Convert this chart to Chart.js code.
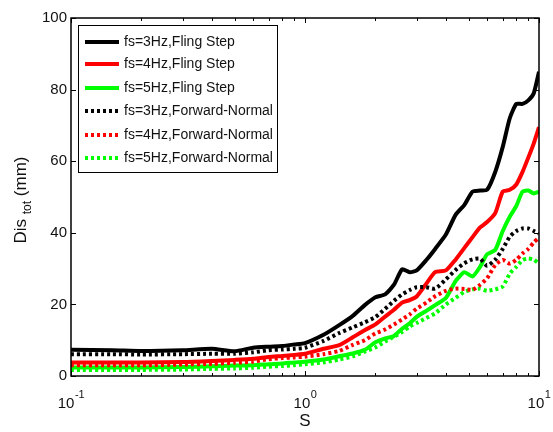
<!DOCTYPE html>
<html>
<head>
<meta charset="utf-8">
<script src="https://cdn.jsdelivr.net/npm/chart.js@4"></script>
<style>
  html, body { margin: 0; padding: 0; background: #fff; }
</style>
</head>
<body>
<canvas id="chart" width="553" height="432"></canvas>
<script>
// Period ratio S (log axis) and total displacement (mm) for each case
const sValues = [0.1, 0.15, 0.2, 0.3, 0.4, 0.5, 0.6, 0.7, 0.8, 0.9, 1.0, 1.2, 1.4, 1.6, 1.8, 2.0, 2.2, 2.4, 2.6, 2.8, 3.0, 3.3, 3.6, 4.0, 4.4, 4.8, 5.2, 5.6, 6.0, 6.5, 7.0, 7.5, 8.0, 8.5, 9.0, 9.5, 10];

const fling3Hz = [7.3, 7.2, 7.0, 7.2, 7.6, 6.9, 7.9, 8.2, 8.4, 8.8, 9.2, 11.5, 14.2, 16.8, 19.8, 22.0, 22.8, 25.5, 29.8, 29.0, 29.5, 32.4, 35.5, 39.5, 45.0, 47.8, 51.5, 51.8, 52.0, 57.0, 64.0, 72.0, 76.0, 76.0, 77.0, 79.0, 85.0];
const fling4Hz = [3.8, 3.8, 3.8, 3.9, 4.2, 4.5, 4.8, 5.3, 5.6, 5.9, 6.2, 7.6, 8.6, 10.8, 12.8, 14.4, 16.6, 18.5, 20.5, 21.2, 22.2, 25.8, 29.0, 29.5, 32.5, 35.8, 38.8, 41.5, 43.0, 45.5, 51.5, 52.0, 53.5, 57.0, 61.0, 65.0, 69.5];
const fling5Hz = [2.4, 2.4, 2.4, 2.5, 2.7, 2.9, 3.0, 3.3, 3.5, 3.8, 4.0, 4.6, 5.5, 6.3, 7.3, 9.4, 10.5, 11.2, 13.2, 14.7, 16.5, 18.2, 19.8, 21.8, 26.5, 29.0, 27.8, 30.5, 34.0, 35.2, 40.5, 44.5, 47.5, 51.5, 51.8, 51.0, 51.5];
const fn3Hz = [6.1, 6.1, 6.0, 6.1, 6.2, 6.2, 6.6, 7.2, 7.4, 7.6, 7.9, 9.8, 12.0, 13.6, 15.0, 16.5, 18.8, 21.0, 22.8, 24.0, 24.8, 24.8, 24.4, 27.0, 29.6, 31.5, 32.6, 32.8, 30.8, 32.5, 35.5, 38.9, 40.5, 41.2, 41.2, 40.5, 39.8];
const fn4Hz = [3.0, 3.0, 3.0, 3.2, 3.4, 3.7, 4.0, 4.7, 5.0, 5.2, 5.4, 6.1, 7.0, 8.7, 10.0, 11.9, 13.0, 14.4, 15.8, 17.2, 18.8, 20.5, 22.3, 23.8, 24.4, 24.3, 24.1, 25.5, 27.3, 31.0, 32.4, 31.4, 32.5, 34.2, 35.5, 37.3, 38.6];
const fn5Hz = [1.7, 1.7, 1.7, 1.8, 2.0, 2.1, 2.3, 2.6, 2.8, 3.0, 3.3, 3.8, 4.6, 5.5, 6.8, 8.0, 9.6, 11.0, 12.3, 13.8, 14.8, 16.2, 17.5, 20.0, 21.8, 23.5, 24.2, 24.4, 23.8, 24.2, 25.0, 28.6, 30.5, 32.4, 32.8, 32.5, 31.4];

const seriesLabels = ['fs=3Hz,Fling Step', 'fs=4Hz,Fling Step', 'fs=5Hz,Fling Step',
                      'fs=3Hz,Forward-Normal', 'fs=4Hz,Forward-Normal', 'fs=5Hz,Forward-Normal'];
const seriesData = [fling3Hz, fling4Hz, fling5Hz, fn3Hz, fn4Hz, fn5Hz];
const seriesColors = ['#000000', '#ff0000', '#00ff00', '#000000', '#ff0000', '#00ff00'];
const seriesDashed = [false, false, false, true, true, true];

const yTicks = [0, 20, 40, 60, 80, 100];
const xMajorTicks = [0.1, 1, 10];
const xTickExponents = ['-1', '0', '1'];
const xMinorTicks = [0.2, 0.3, 0.4, 0.5, 0.6, 0.7, 0.8, 0.9, 2, 3, 4, 5, 6, 7, 8, 9];

const FONT = '"Liberation Sans", Arial, sans-serif';
const DOT_DASH = [3, 3];

const datasets = seriesData.map((arr, i) => ({
    label: seriesLabels[i],
    data: sValues.map((s, j) => ({ x: s, y: arr[j] })),
    borderColor: seriesColors[i],
    backgroundColor: seriesColors[i],
    borderWidth: seriesDashed[i] ? 4 : 4,
    borderDash: seriesDashed[i] ? DOT_DASH : [],
    borderCapStyle: 'butt',
    pointRadius: 0,
    tension: 0.2,
    fill: false,
    order: seriesDashed[i] ? 0 : 1
}));

// Draws MATLAB-style frame, inward ticks, tick labels, axis titles and legend
const matlabAxes = {
    id: 'matlabAxes',
    afterDatasetsDraw(chart) {
        const ctx = chart.ctx;
        const area = chart.chartArea;
        const xs = chart.scales.x;
        const ys = chart.scales.y;
        ctx.save();

        // frame
        ctx.strokeStyle = '#000';
        ctx.lineWidth = 1.5;
        ctx.setLineDash([]);
        ctx.strokeRect(area.left, area.top, area.right - area.left, area.bottom - area.top);

        // ticks
        ctx.lineWidth = 1;
        ctx.beginPath();
        yTicks.forEach(v => {
            const py = Math.round(ys.getPixelForValue(v)) + 0.5;
            ctx.moveTo(area.left, py); ctx.lineTo(area.left + 5, py);
            ctx.moveTo(area.right, py); ctx.lineTo(area.right - 5, py);
        });
        xMajorTicks.forEach(v => {
            const px = Math.round(xs.getPixelForValue(v)) + 0.5;
            ctx.moveTo(px, area.bottom); ctx.lineTo(px, area.bottom - 5);
            ctx.moveTo(px, area.top); ctx.lineTo(px, area.top + 5);
        });
        xMinorTicks.forEach(v => {
            const px = Math.round(xs.getPixelForValue(v)) + 0.5;
            ctx.moveTo(px, area.bottom); ctx.lineTo(px, area.bottom - 3);
            ctx.moveTo(px, area.top); ctx.lineTo(px, area.top + 3);
        });
        ctx.stroke();

        // y tick labels
        ctx.fillStyle = '#111';
        ctx.font = '15px ' + FONT;
        ctx.textAlign = 'right';
        ctx.textBaseline = 'middle';
        yTicks.forEach(v => {
            ctx.fillText(String(v), area.left - 4, ys.getPixelForValue(v));
        });

        // x tick labels 10^n
        ctx.textAlign = 'left';
        ctx.textBaseline = 'alphabetic';
        xMajorTicks.forEach((v, i) => {
            const px = xs.getPixelForValue(v);
            ctx.font = '15px ' + FONT;
            const wBase = ctx.measureText('10').width;
            ctx.font = '11px ' + FONT;
            const wExp = ctx.measureText(xTickExponents[i]).width;
            const x0 = px - (wBase + wExp) / 2;
            ctx.font = '15px ' + FONT;
            ctx.fillText('10', x0, 408);
            ctx.font = '11px ' + FONT;
            ctx.fillText(xTickExponents[i], x0 + wBase + 0.5, 398);
        });

        // x title
        ctx.font = '17px ' + FONT;
        ctx.textAlign = 'center';
        ctx.textBaseline = 'middle';
        ctx.fillText('S', (area.left + area.right) / 2, 421);

        // y title with subscript
        ctx.save();
        ctx.translate(21, 200);
        ctx.rotate(-Math.PI / 2);
        ctx.textAlign = 'left';
        ctx.font = '17px ' + FONT;
        const wDis = ctx.measureText('Dis ').width;
        const wMm = ctx.measureText(' (mm)').width;
        ctx.font = '12px ' + FONT;
        const wTot = ctx.measureText('tot').width;
        let tx = -(wDis + wTot + wMm) / 2;
        ctx.font = '17px ' + FONT;
        ctx.fillText('Dis ', tx, 0);
        tx += wDis;
        ctx.font = '12px ' + FONT;
        ctx.fillText('tot', tx, 7);
        tx += wTot;
        ctx.font = '17px ' + FONT;
        ctx.fillText(' (mm)', tx, 0);
        ctx.restore();

        // legend box
        const lx = 78, ly = 25, lw = 199, lh = 147;
        ctx.fillStyle = '#fff';
        ctx.fillRect(lx, ly, lw, lh);
        ctx.strokeStyle = '#000';
        ctx.lineWidth = 1;
        ctx.strokeRect(lx + 0.5, ly + 0.5, lw, lh);
        const rowY = [42, 64, 88, 111, 135, 158];
        chart.data.datasets.forEach((ds, i) => {
            const y = rowY[i];
            ctx.strokeStyle = ds.borderColor;
            ctx.lineWidth = 4;
            ctx.lineCap = 'butt';
            ctx.setLineDash(ds.borderDash);
            ctx.beginPath();
            ctx.moveTo(85, y);
            ctx.lineTo(119, y);
            ctx.stroke();
            ctx.setLineDash([]);
            ctx.fillStyle = '#111';
            ctx.font = '14px ' + FONT;
            ctx.textAlign = 'left';
            ctx.textBaseline = 'middle';
            ctx.fillText(ds.label, 124, y);
        });

        ctx.restore();
    }
};

const chart = new Chart(document.getElementById('chart').getContext('2d'), {
    type: 'line',
    data: { datasets },
    options: {
        responsive: false,
        animation: false,
        layout: { padding: { left: 71, right: 14, top: 18, bottom: 56 } },
        plugins: {
            legend: { display: false },
            tooltip: { enabled: false }
        },
        scales: {
            x: { type: 'logarithmic', min: 0.1, max: 10, display: false },
            y: { type: 'linear', min: 0, max: 100, display: false }
        }
    },
    plugins: [matlabAxes]
});
</script>
</body>
</html>
